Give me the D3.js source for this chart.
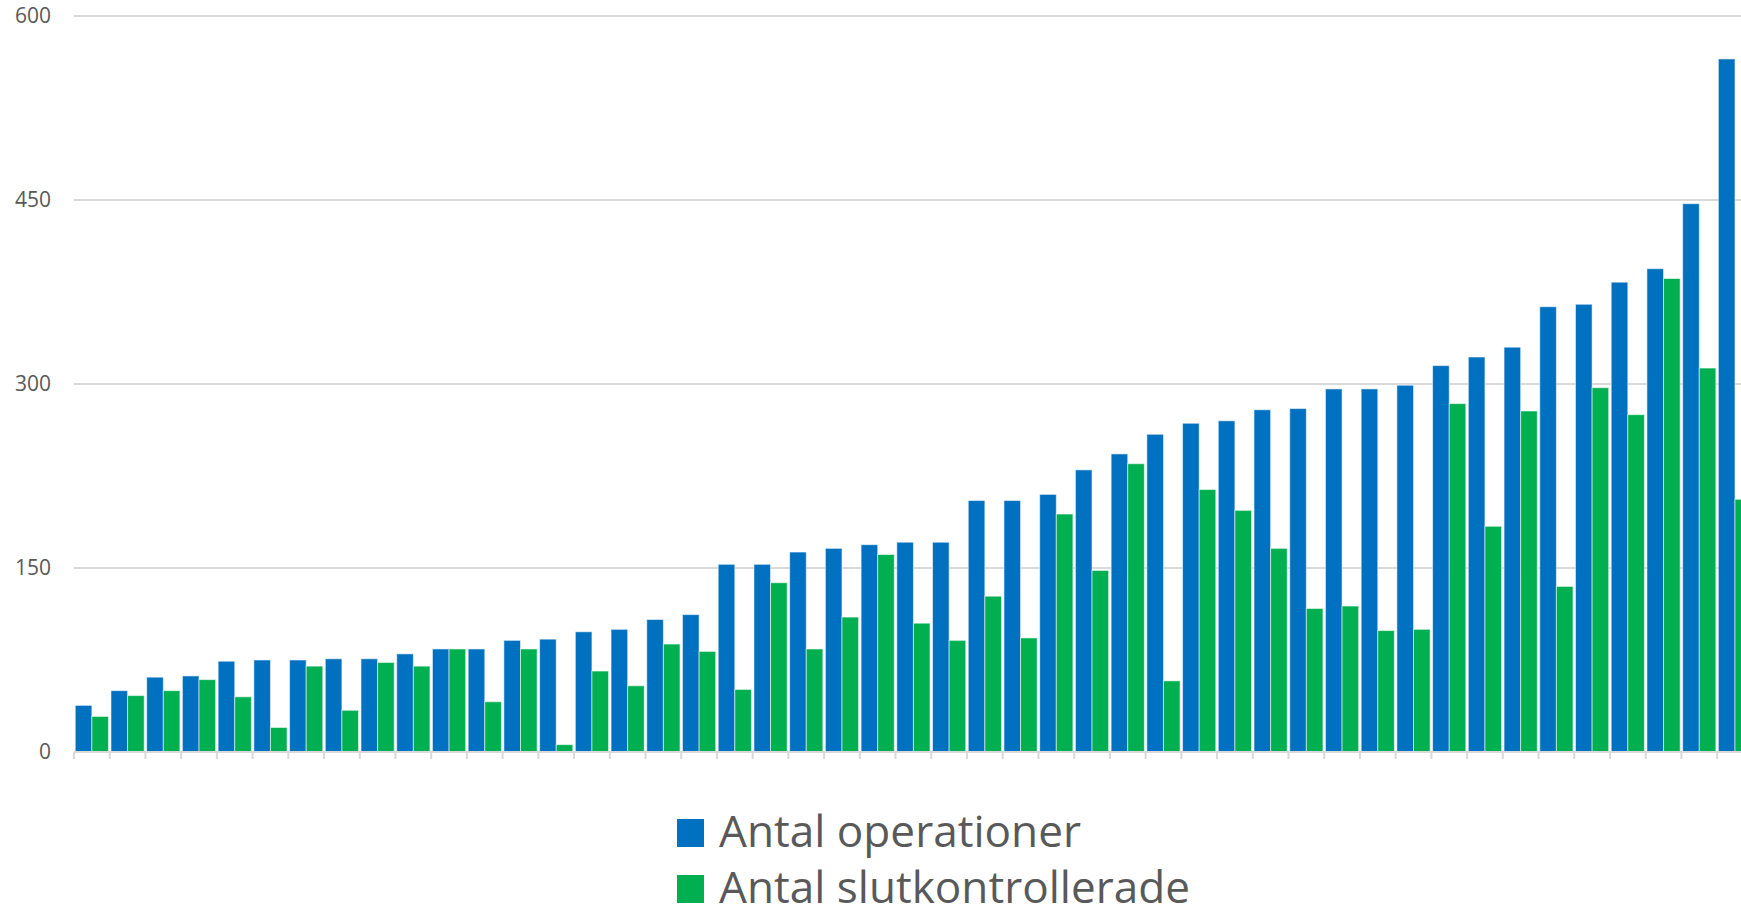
<!DOCTYPE html>
<html>
<head>
<meta charset="utf-8">
<script src="https://cdn.jsdelivr.net/npm/d3@7"></script>
<style>
  html, body { margin: 0; padding: 0; background: #ffffff; overflow: hidden; }
  svg { display: block; }
</style>
</head>
<body>
<svg id="chart" width="1741" height="910"></svg>
<script>
// ---- Data ----
const categories = ["1","2","3","4","5","6","7","8","9","10","11","12","13","14","15","16","17","18","19","20","21","22","23","24","25","26","27","28","29","30","31","32","33","34","35","36","37","38","39","40","41","42","43","44","45","46","47"];
const seriesNames = ["Antal operationer", "Antal slutkontrollerade"];
const operationer = [38,50,61,62,74,75,75,76,76,80,84,84,91,92,98,100,108,112,153,153,163,166,169,171,171,205,205,210,230,243,259,268,270,279,280,296,296,299,315,322,330,363,365,383,394,447,565];
const slutkontrollerade = [29,46,50,59,45,20,70,34,73,70,84,41,84,6,66,54,88,82,51,138,84,110,161,105,91,127,93,194,148,235,58,214,197,166,117,119,99,100,284,184,278,135,297,275,386,313,206];
const yTicks = [0,150,300,450,600];
const colors = ["#0070C0", "#00B050"];

// ---- Layout ----
const svg = d3.select("#chart");
const W = 1741;
const plotLeft = 74, step = 35.72;
const plotRight = plotLeft + step * categories.length;
const plotTop = 16, plotBottom = 752;

const x = d3.scaleBand().domain(categories).range([plotLeft, plotRight]).paddingInner(0.07).paddingOuter(0.035);
const xs = d3.scaleBand().domain(seriesNames).range([0, x.bandwidth()]);
const y = d3.scaleLinear().domain([0, 600]).range([plotBottom, plotTop]);

// Gridlines
svg.append("g").selectAll("line").data(yTicks.filter(d => d > 0)).join("line")
  .attr("x1", plotLeft).attr("x2", W)
  .attr("y1", d => y(d)).attr("y2", d => y(d))
  .attr("stroke", "#d9d9d9").attr("stroke-width", 2);

// Y labels
const yAxis = d3.axisLeft(y).tickValues(yTicks).tickSize(0).tickPadding(0);
const gy = svg.append("g").attr("transform", `translate(51,0)`).call(yAxis);
gy.select(".domain").remove();
gy.selectAll("text")
  .attr("fill", "#595959")
  .style("font-family", "'Open Sans', sans-serif")
  .style("font-size", "21px");

// Bars
const rows = categories.map((c, i) => ({ c, vals: [operationer[i], slutkontrollerade[i]] }));
const groups = svg.append("g").selectAll("g").data(rows).join("g")
  .attr("transform", d => `translate(${x(d.c)},0)`);
groups.selectAll("rect").data(d => d.vals.map((v, j) => ({ name: seriesNames[j], v, j }))).join("rect")
  .attr("x", d => xs(d.name))
  .attr("width", xs.bandwidth())
  .attr("y", d => y(d.v))
  .attr("height", d => y(0) - y(d.v))
  .attr("fill", d => colors[d.j])
  .attr("stroke", "#ffffff").attr("stroke-opacity", 0.55).attr("stroke-width", 1);

// X axis line + ticks
const xAxis = d3.axisBottom(x).tickSize(0).tickFormat("");
const gx = svg.append("g").attr("transform", `translate(0,${plotBottom})`).call(xAxis);
gx.selectAll(".tick").remove();
gx.select(".domain").attr("stroke", "#d9d9d9").attr("stroke-width", 2)
  .attr("d", `M${plotLeft},0H${W}`);
const boundaries = categories.map(c => x(c) - x.step() * x.paddingInner() / 2);
svg.append("g").selectAll("line").data(boundaries).join("line")
  .attr("x1", d => d).attr("x2", d => d)
  .attr("y1", plotBottom).attr("y2", plotBottom + 7)
  .attr("stroke", "#d9d9d9").attr("stroke-width", 2);

// Legend
const legend = svg.append("g");
const legendRows = [
  { name: seriesNames[0], color: colors[0], yBase: 847, len: 362 },
  { name: seriesNames[1], color: colors[1], yBase: 903, len: 471 }
];
legendRows.forEach(r => {
  legend.append("rect").attr("x", 677).attr("y", r.yBase - 28).attr("width", 27).attr("height", 28).attr("fill", r.color);
  legend.append("text").attr("x", 719).attr("y", r.yBase)
    .attr("fill", "#595959")
    .style("font-family", "'Open Sans', sans-serif")
    .style("font-size", "44px")
    .attr("textLength", r.len).attr("lengthAdjust", "spacingAndGlyphs")
    .text(r.name);
});
</script>
</body>
</html>
